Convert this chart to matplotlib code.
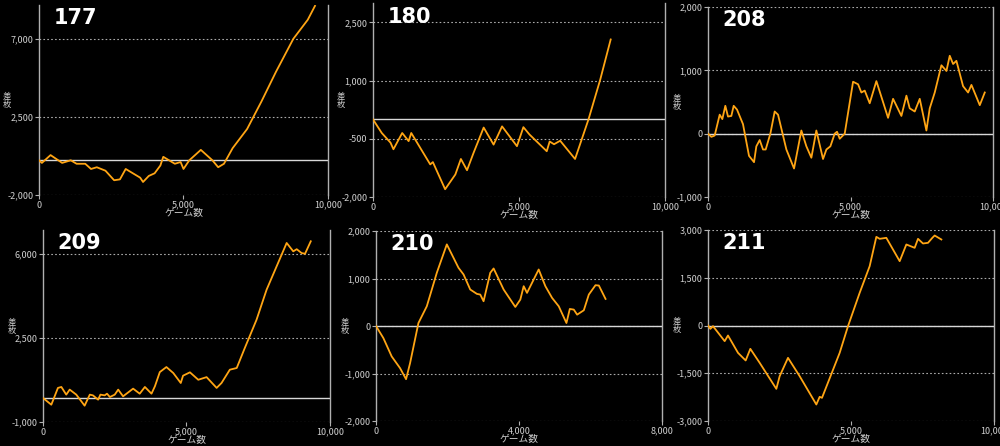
import matplotlib.pyplot as plt
from matplotlib.ticker import FuncFormatter

plt.rcParams['font.family'] = ['Noto Sans CJK JP', 'DejaVu Sans']

LINE_CLR = '#ffa514'
AX_CLR = '#b0b0b0'
TXT_CLR = '#d0d0d0'

# ── data (games, coins) ───────────────────────────────────────────────────
g177 = [0, 100, 400, 800, 1100, 1300, 1600, 1800, 2000, 2300, 2600, 2800, 3000, 3200, 3500, 3600,
        3800, 4000, 4200, 4300, 4500, 4700, 4900, 5000, 5200, 5400, 5600, 5800, 6000, 6200, 6400,
        6700, 7200, 7700, 8200, 8800, 9300, 9550]
v177 = [0, -150, 300, -150, 0, -200, -200, -500, -400, -600, -1150, -1100, -500, -700, -1000, -1250,
        -900, -750, -300, 200, 0, -200, -100, -500, 0, 300, 600, 300, 0, -400, -200,
        700, 1800, 3400, 5100, 7000, 8100, 8900]

g180 = [0, 300, 600, 700, 1000, 1220, 1310, 1960, 2050, 2470, 2820, 3010, 3220, 3440, 3790, 4130,
        4420, 4930, 5150, 5360, 5950, 6050, 6200, 6410, 6920, 7380, 7780, 8140]
v180 = [0, -350, -600, -770, -350, -560, -350, -1160, -1100, -1800, -1420, -1020, -1310, -870, -210, -650,
        -180, -690, -200, -390, -820, -570, -640, -550, -1020, 0, 1020, 2060]

zx208 = [145, 155, 165, 180, 188, 197, 205, 215, 222, 232, 250, 268, 283, 290, 300, 310, 318, 332, 345,
         355, 380, 403, 425, 440, 455, 470, 490, 500, 512, 525, 532, 540, 555, 580, 595, 605, 615, 630,
         650, 685, 700, 725, 740, 750, 765, 780, 800, 810, 825, 845, 860, 870, 880, 890, 910, 925, 935,
         960, 975]
g208 = [round((x - 145) * 11.7) for x in zx208]
v208 = [0, -50, -30, 300, 230, 440, 270, 280, 440, 380, 150, -350, -450, -200, -100, -250, -250, 0, 350,
        300, -250, -550, 50, -200, -380, 50, -400, -250, -200, 0, 30, -80, 0, 820, 780, 650, 680, 480,
        830, 250, 550, 280, 600, 400, 350, 550, 50, 400, 650, 1080, 990, 1230, 1100, 1150, 750, 650, 770,
        450, 650]

g209 = [0, 290, 520, 640, 810, 930, 1160, 1450, 1630, 1740, 1920, 2000, 2150, 2230, 2330, 2500, 2620,
        2790, 3140, 3370, 3550, 3780, 3900, 4070, 4300, 4540, 4800, 4880, 5120, 5410, 5700, 6050, 6220,
        6510, 6750, 7030, 7440, 7790, 8490, 8720, 8840, 9010, 9130, 9330]
v209 = [0, -280, 420, 460, 140, 350, 140, -320, 140, 110, -70, 140, 110, 180, 40, 140, 350, 70,
        390, 180, 460, 180, 490, 1080, 1290, 1040, 625, 930, 1070, 760, 870, 420, 625,
        1180, 1250, 2080, 3260, 4510, 6460, 6110, 6200, 6040, 6010, 6530]

zx210 = [138, 160, 185, 210, 228, 240, 265, 290, 320, 350, 385, 400, 420, 440, 450, 460, 480, 490, 520,
         555, 570, 580, 590, 605, 625, 645, 665, 685, 708, 718, 730, 740, 760, 775, 795, 805, 825]
zy210 = [309, 345, 400, 435, 468, 420, 300, 250, 150, 65, 135, 155, 200, 213, 215, 235, 150, 137, 200,
         252, 230, 190, 210, 180, 140, 190, 225, 250, 300, 258, 260, 275, 262, 215, 187, 188, 228]
g210 = [round((x - 138) / 0.107) for x in zx210]
v210 = [round((309 - y) / 0.142) for y in zy210]

zx211 = [145, 152, 160, 195, 205, 235, 258, 272, 300, 350, 360, 385, 420, 470, 480, 487, 540, 565, 600,
         630, 650, 660, 680, 720, 740, 765, 775, 790, 805, 818, 825, 845]
zy211 = [308, 318, 310, 355, 338, 390, 413, 378, 420, 498, 460, 405, 460, 545, 522, 525, 390, 310, 210,
         130, 42, 48, 45, 115, 65, 75, 48, 62, 60, 45, 38, 50]
g211 = [round((x - 145) / 0.0858) for x in zx211]
v211 = [round((308 - y) / 0.0955) for y in zy211]

panels = [
    ('177', g177, v177, 10000, (-2000, 8950), [-2000, 2500, 7000]),
    ('180', g180, v180, 10000, (-2000, 3000), [-2000, -500, 1000, 2500]),
    ('208', g208, v208, 10000, (-1000, 2000), [-1000, 0, 1000, 2000]),
    ('209', g209, v209, 10000, (-1000, 7000), [-1000, 2500, 6000]),
    ('210', g210, v210, 8000, (-2000, 2000), [-2000, -1000, 0, 1000, 2000]),
    ('211', g211, v211, 10000, (-3000, 3000), [-3000, -1500, 0, 1500, 3000]),
]

# axes boxes in pixels: left, right, top, bottom
boxes = [(39, 328, 5, 195), (373, 665, 3, 197), (708, 993, 7, 197),
         (43, 330, 230, 422), (376, 662, 231, 421), (708, 994, 230, 421)]

fig = plt.figure(figsize=(10, 4.46), dpi=100)
fig.patch.set_facecolor('black')
W, H = 1000, 446

fmt = FuncFormatter(lambda v, p: f'{int(v):,}')

for (name, g, v, xmax, ylim, yt), (l, r, t, b) in zip(panels, boxes):
    ax = fig.add_axes([l / W, 1 - b / H, (r - l) / W, (b - t) / H])
    ax.set_facecolor('black')
    ax.plot(g, v, color=LINE_CLR, lw=1.3, zorder=3)
    ax.axhline(0, color='#d8d8d8', lw=1, zorder=2)
    ax.set_xlim(0, xmax)
    ax.set_ylim(*ylim)
    ax.set_xticks([0, xmax / 2, xmax])
    ax.set_yticks(yt)
    ax.xaxis.set_major_formatter(fmt)
    ax.yaxis.set_major_formatter(fmt)
    ax.grid(axis='y', color='#aaaaaa', ls=(0, (1.5, 2)), lw=0.8)
    for s in ['left', 'right']:
        ax.spines[s].set_color(AX_CLR)
        ax.spines[s].set_linewidth(1)
    ax.spines['top'].set_visible(False)
    ax.spines['bottom'].set_visible(False)
    ax.tick_params(colors=AX_CLR, labelcolor=TXT_CLR, labelsize=6.5, length=3, width=0.8, pad=1)
    ax.set_xlabel('ゲーム数', color=TXT_CLR, fontsize=7, labelpad=-1)
    ax.set_ylabel('差\n枚', color=TXT_CLR, fontsize=6, rotation=0, va='center', ha='center',
                  linespacing=0.9)
    ax.yaxis.set_label_coords(-0.11, 0.5)
    ax.text(0.05, 0.93, name, transform=ax.transAxes, color='white', fontsize=15,
            fontweight='bold', va='center', ha='left', family='DejaVu Sans')

fig.savefig('out.png', dpi=100, facecolor='black')
